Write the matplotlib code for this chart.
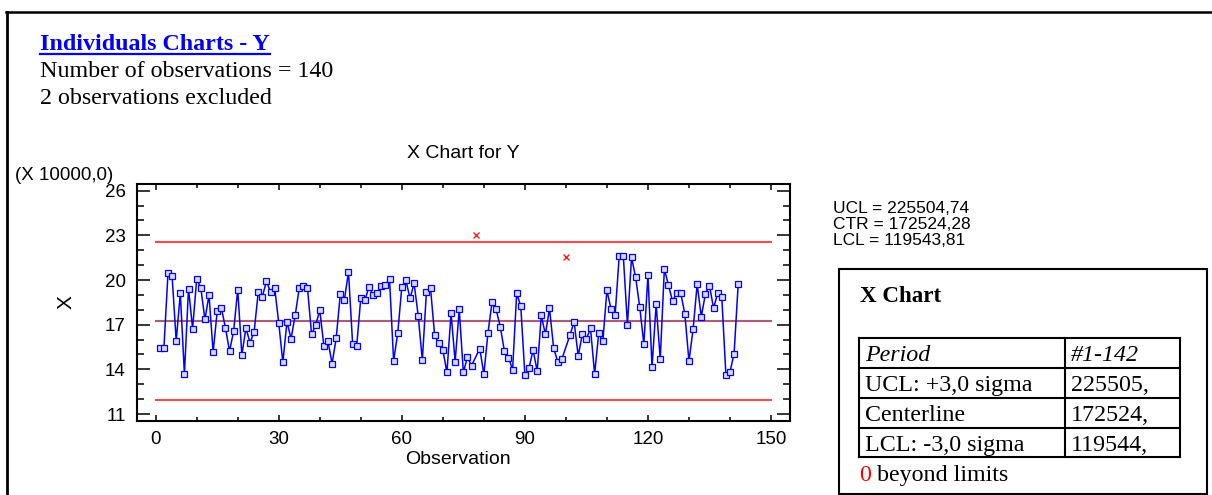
import numpy as np
import matplotlib
matplotlib.use("Agg")
import matplotlib.pyplot as plt
from matplotlib.lines import Line2D
from matplotlib.patches import Rectangle
from matplotlib.ticker import MultipleLocator

W, H = 1212, 495

# ---------------- data (values in units of 10000) ----------------
observations = list(range(1, 143))
values = [
    15.46, 15.41, 20.47, 20.27, 15.90, 19.11, 13.68, 19.43, 16.73, 20.07,
    19.47, 17.35, 19.00, 15.15, 17.91, 18.13, 16.80, 15.21, 16.57, 19.36,
    14.97, 16.77, 15.79, 16.53, 19.18, 18.89, 19.92, 19.18, 19.49, 17.11,
    14.46, 17.20, 16.06, 17.62, 19.47, 19.63, 19.47, 16.35, 16.97, 17.98,
    15.57, 15.88, 14.39, 16.08, 19.05, 18.67, 20.54, 15.73, 15.57, 18.80,
    18.64, 19.56, 18.98, 19.14, 19.58, 19.69, 20.07, 14.57, 16.42, 19.54,
    19.98, 18.76, 19.78, 17.58, 14.61, 19.22, 19.45, 16.28, 15.75, 15.30,
    13.79, 17.78, 14.52, 18.02, 13.79, 14.83, 14.25, 23.04, 15.39, 13.68,
    16.44, 18.53, 18.02, 16.86, 15.24, 14.79, 13.97, 19.11, 18.24, 13.61,
    14.08, 15.30, 13.88, 17.62, 16.35, 18.09, 15.46, 14.50, 14.68, 21.54,
    16.31, 17.20, 14.90, 16.35, 16.06, 16.75, 13.68, 16.42, 15.88, 19.31,
    18.04, 17.66, 21.63, 21.60, 17.00, 21.52, 20.18, 18.18, 15.70, 20.32,
    14.17, 18.36, 14.68, 20.74, 19.65, 18.58, 19.11, 19.11, 17.71, 14.54,
    16.68, 19.72, 17.53, 19.05, 19.63, 18.09, 19.14, 18.85, 13.65, 13.83,
    15.06, 19.72,
]
excluded = [78, 100]

ucl, ctr, lcl = 225504.74, 172524.28, 119543.81
scale = 10000.0
limit_span = [0, 150]

x_ticks = [0, 30, 60, 90, 120, 150]
y_ticks = [11, 14, 17, 20, 23, 26]

table_rows = [("Period", "#1-142"),
              ("UCL: +3,0 sigma", "225505,"),
              ("Centerline", "172524,"),
              ("LCL: -3,0 sigma", "119544,")]

SERIF = "Liberation Serif"
SANS = "Liberation Sans"

def fx(x):
    return x / W

def fy(y):
    return 1 - y / H

fig = plt.figure(figsize=(W / 100, H / 100), dpi=100)
fig.patch.set_facecolor("white")

# ---------------- axes ----------------
ax_l, ax_r, ax_t, ax_b = 136.7, 790.0, 184.0, 421.0
ax = fig.add_axes([fx(ax_l), fy(ax_b), fx(ax_r) - fx(ax_l), fy(ax_t) - fy(ax_b)])

obs = np.array(observations)
vals = np.array(values)
mask = np.array([o not in excluded for o in observations])

ax.plot(limit_span, [ucl / scale] * 2, color="#ff4a4a", lw=1.5, zorder=2)
ax.plot(limit_span, [lcl / scale] * 2, color="#ff4a4a", lw=1.5, zorder=2)
ax.plot(limit_span, [ctr / scale] * 2, color="#b05a78", lw=1.5, zorder=2)

ax.plot(obs[mask], vals[mask], color="#0000ff", lw=1.1, marker="s",
        markersize=3.8, mfc="#d8d8ff", mec="#0000ff", mew=0.9, zorder=3)
ax.plot(obs[~mask], vals[~mask], ls="none", marker="x", color="#ff2020",
        markersize=4.2, mew=1.0, zorder=3)

ax.set_xlim(-4.63, 154.63)
ax.set_ylim(10.53, 26.45)
ax.set_xticks(x_ticks)
ax.set_yticks(y_ticks)
ax.xaxis.set_minor_locator(MultipleLocator(10))
ax.yaxis.set_minor_locator(MultipleLocator(1))
ax.tick_params(axis="y", which="major", direction="in", length=9.4, width=1.1,
               left=True, right=True, labelsize=13.5, pad=8)
ax.tick_params(axis="y", which="minor", direction="in", length=5.3, width=1.1,
               left=True, right=True)
ax.tick_params(axis="x", which="major", direction="in", length=4.5, width=1.1,
               top=True, bottom=True, labelsize=13.5, pad=7)
ax.tick_params(axis="x", which="minor", direction="in", length=3.0, width=1.1,
               top=True, bottom=True)
for lab in ax.get_xticklabels() + ax.get_yticklabels():
    lab.set_fontfamily(SANS)
for sp in ax.spines.values():
    sp.set_linewidth(1.5)

# ---------------- chart texts ----------------
fig.text(fx(463.3), fy(158), "X Chart for Y", family=SANS, fontsize=14,
         ha="center", va="baseline")
fig.text(fx(15), fy(180), "(X 10000,0)", family=SANS, fontsize=13.5,
         ha="left", va="baseline")
fig.text(fx(66), fy(302), "X", family=SANS, fontsize=15, rotation=90,
         ha="center", va="center")
fig.text(fx(458), fy(460), "Observation", family=SANS, fontsize=14,
         ha="center", va="center")

fig.text(fx(833), fy(213), "UCL = 225504,74", family=SANS, fontsize=12.5, ha="left", va="baseline")
fig.text(fx(833), fy(229), "CTR = 172524,28", family=SANS, fontsize=12.5, ha="left", va="baseline")
fig.text(fx(833), fy(245), "LCL = 119543,81", family=SANS, fontsize=12.5, ha="left", va="baseline")

# ---------------- header texts ----------------
title = fig.text(fx(40), fy(50), "Individuals Charts - Y", family=SERIF,
                 fontsize=17.3, weight="bold", color="#0000ff",
                 ha="left", va="baseline")
fig.text(fx(40), fy(77), "Number of observations = 140", family=SERIF,
         fontsize=17.3, ha="left", va="baseline")
fig.text(fx(40), fy(104), "2 observations excluded", family=SERIF,
         fontsize=17.3, ha="left", va="baseline")

fig.canvas.draw()
bb = title.get_window_extent(fig.canvas.get_renderer())
fig.add_artist(Line2D([bb.x0 / W, bb.x1 / W], [fy(53.5), fy(53.5)],
                      transform=fig.transFigure, color="#0000ff", lw=1.6))

# ---------------- outer frame ----------------
fig.add_artist(Line2D([fx(5.5), fx(1212)], [fy(12), fy(12)],
                      transform=fig.transFigure, color="black", lw=1.8))
fig.add_artist(Line2D([fx(6.7), fx(6.7)], [fy(12), fy(495)],
                      transform=fig.transFigure, color="black", lw=2.0))

# ---------------- right summary box ----------------
bx0, by0, bx1, by1 = 839, 269, 1206.5, 493.5
fig.add_artist(Rectangle((fx(bx0), fy(by1)), fx(bx1) - fx(bx0), fy(by0) - fy(by1),
                         transform=fig.transFigure, fill=False, ec="black", lw=1.5))
fig.text(fx(860), fy(302), "X Chart", family=SERIF, fontsize=16.6,
         weight="bold", ha="left", va="baseline")

tx0, tx1, tdiv = 859, 1180, 1065
row_lines = [337.7, 367.7, 397.7, 427.7, 456.7]
for yl in row_lines:
    fig.add_artist(Line2D([fx(tx0), fx(tx1)], [fy(yl), fy(yl)],
                          transform=fig.transFigure, color="black", lw=1.5))
for xv in (tx0, tdiv, tx1):
    fig.add_artist(Line2D([fx(xv), fx(xv)], [fy(row_lines[0]), fy(row_lines[-1])],
                          transform=fig.transFigure, color="black", lw=1.5))
for i, (c1, c2) in enumerate(table_rows):
    base = row_lines[i] + 23.5
    style = "italic" if i == 0 else "normal"
    fig.text(fx(865), fy(base), c1, family=SERIF, fontsize=17.3, style=style,
             ha="left", va="baseline")
    fig.text(fx(1070.5), fy(base), c2, family=SERIF, fontsize=17.3, style=style,
             ha="left", va="baseline")

t0 = fig.text(fx(859), fy(481), "0", family=SERIF, fontsize=17.3, color="#ff0000",
              ha="left", va="baseline")
fig.canvas.draw()
b0 = t0.get_window_extent(fig.canvas.get_renderer())
fig.text(b0.x1 / W, fy(481), " beyond limits", family=SERIF, fontsize=17.3,
         ha="left", va="baseline")

fig.savefig("out.png", dpi=100)
